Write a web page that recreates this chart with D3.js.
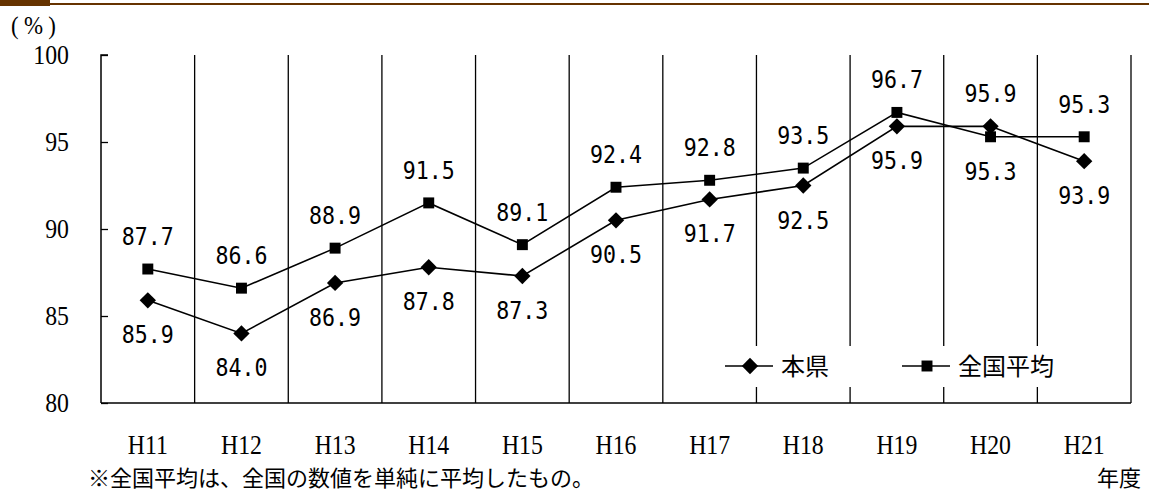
<!DOCTYPE html>
<html lang="ja">
<head>
<meta charset="utf-8">
<script src="https://cdn.jsdelivr.net/npm/d3@7/dist/d3.min.js"></script>
<style>
  html, body { margin: 0; padding: 0; background: #fff; }
  svg { display: block; }
</style>
</head>
<body>
<svg id="chart" width="1149" height="491"></svg>
<script>
// Fiscal years (Heisei)
const years = ["H11", "H12", "H13", "H14", "H15", "H16", "H17", "H18", "H19", "H20", "H21"];
// Prefecture rate (%)
const prefValues = [85.9, 84.0, 86.9, 87.8, 87.3, 90.5, 91.7, 92.5, 95.9, 95.9, 93.9];
// National average rate (%)
const nationalValues = [87.7, 86.6, 88.9, 91.5, 89.1, 92.4, 92.8, 93.5, 96.7, 95.3, 95.3];
// Label side per point: "above" or "below"
const prefLabelSide = ["below","below","below","below","below","below","below","below","below","above","below"];
const nationalLabelSide = ["above","above","above","above","above","above","above","above","above","below","above"];
const yTicks = [80, 85, 90, 95, 100];
const seriesNames = ["本県", "全国平均"];
const footnote = "※全国平均は、全国の数値を単純に平均したもの。";
const xAxisTitle = "年度";
const yAxisUnit = "(%)";

const svg = d3.select("#chart");
const margin = { left: 101, right: 18, top: 55, bottom: 88 };
const W = 1149, H = 491;
const plotW = W - margin.left - margin.right;
const plotH = H - margin.top - margin.bottom;

const x = d3.scaleBand().domain(years).range([margin.left, margin.left + plotW]).padding(0);
const y = d3.scaleLinear().domain([80, 100]).range([margin.top + plotH, margin.top]);
const cx = d => x(d) + x.bandwidth() / 2;

const serif = "'Liberation Serif', 'DejaVu Serif', serif";
const jp = "'Noto Sans CJK JP', sans-serif";
const mono = "'DejaVu Sans Mono', 'Liberation Mono', monospace";
// Narrowed serif text, drawn at (px, py)
const narrow = (px, py) => `translate(${px},${py}) scale(0.88,1)`;

// Section header rule
svg.append("rect").attr("x", 0).attr("y", 0).attr("width", 50).attr("height", 6).attr("fill", "#663300");
svg.append("rect").attr("x", 50).attr("y", 3).attr("width", W - 50).attr("height", 2).attr("fill", "#663300");

// Vertical separators between years
const g = svg.append("g");
g.selectAll("line.sep")
  .data(years)
  .join("line")
  .attr("class", "sep")
  .attr("x1", d => x(d) + x.bandwidth()).attr("x2", d => x(d) + x.bandwidth())
  .attr("y1", y(100)).attr("y2", y(80))
  .attr("stroke", "#000").attr("stroke-width", 1.3);

// Y axis with inward ticks
const yAxis = d3.axisRight(y).tickValues(yTicks).tickSize(7).tickFormat("");
const ya = svg.append("g").attr("transform", `translate(${margin.left},0)`).call(yAxis);
ya.select(".domain").attr("d", `M${7},${y(100)}H0V${y(80)}`).attr("stroke", "#000").attr("stroke-width", 1.5);
ya.selectAll(".tick line").attr("stroke", "#000").attr("stroke-width", 1.3);

// Y tick labels
svg.append("g").selectAll("text")
  .data(yTicks)
  .join("text")
  .attr("transform", d => narrow(69, y(d)))
  .attr("dy", "0.35em")
  .attr("text-anchor", "end")
  .attr("font-family", serif).attr("font-size", 27)
  .text(d => d);

// X axis baseline
svg.append("line")
  .attr("x1", margin.left).attr("x2", margin.left + plotW)
  .attr("y1", y(80)).attr("y2", y(80))
  .attr("stroke", "#000").attr("stroke-width", 1.5);

// X labels
svg.append("g").selectAll("text")
  .data(years)
  .join("text")
  .attr("transform", d => narrow(cx(d), 444.5))
  .attr("dy", "0.35em")
  .attr("text-anchor", "middle")
  .attr("font-family", serif).attr("font-size", 27)
  .text(d => d);

// Unit label
svg.append("text")
  .attr("transform", narrow(11, 25))
  .attr("dy", "0.35em")
  .attr("font-family", serif).attr("font-size", 26)
  .attr("letter-spacing", 6)
  .text(yAxisUnit);

// Footnote and x title
svg.append("text")
  .attr("x", 88).attr("y", 478.5).attr("dy", "0.35em")
  .attr("font-family", jp).attr("font-size", 22)
  .text(footnote);
svg.append("text")
  .attr("x", 1141).attr("y", 478.5).attr("dy", "0.35em")
  .attr("text-anchor", "end")
  .attr("font-family", jp).attr("font-size", 22)
  .text(xAxisTitle);

// Legend backdrop
const legendY = 366;
svg.append("rect")
  .attr("x", 705).attr("y", 346).attr("width", 395).attr("height", 41)
  .attr("fill", "#fff");

const line = d3.line().x((d, i) => cx(years[i])).y(d => y(d));
const diamond = d3.symbol().type(d3.symbolDiamond2).size(170);
const square = d3.symbol().type(d3.symbolSquare).size(120);

function drawSeries(values, sym) {
  svg.append("path").datum(values)
    .attr("d", line).attr("fill", "none")
    .attr("stroke", "#000").attr("stroke-width", 1.6);
  svg.append("g").selectAll("path")
    .data(values)
    .join("path")
    .attr("transform", (d, i) => `translate(${cx(years[i])},${y(d)})`)
    .attr("d", sym).attr("fill", "#000");
}
drawSeries(nationalValues, square);
drawSeries(prefValues, diamond);

// Value labels
function drawLabels(values, sides) {
  svg.append("g").selectAll("text")
    .data(values)
    .join("text")
    .attr("transform", (d, i) => {
      const ty = sides[i] === "above" ? y(d) - 24 : y(d) + 43;
      return `translate(${cx(years[i])},${ty}) scale(0.9,1)`;
    })
    .attr("text-anchor", "middle")
    .attr("font-family", mono).attr("font-size", 24)
    .attr("fill", "#000")
    .text(d => d.toFixed(1));
}
drawLabels(nationalValues, nationalLabelSide);
drawLabels(prefValues, prefLabelSide);

// Legend
const legendItems = [
  { name: seriesNames[0], sym: diamond, x0: 725 },
  { name: seriesNames[1], sym: square, x0: 902 }
];
const lg = svg.append("g");
legendItems.forEach(it => {
  lg.append("line")
    .attr("x1", it.x0).attr("x2", it.x0 + 48)
    .attr("y1", legendY).attr("y2", legendY)
    .attr("stroke", "#000").attr("stroke-width", 1.6);
  lg.append("path")
    .attr("transform", `translate(${it.x0 + 25},${legendY})`)
    .attr("d", it.sym).attr("fill", "#000");
  lg.append("text")
    .attr("x", it.x0 + 56).attr("y", legendY).attr("dy", "0.36em")
    .attr("font-family", jp).attr("font-size", 24)
    .text(it.name);
});
</script>
</body>
</html>
